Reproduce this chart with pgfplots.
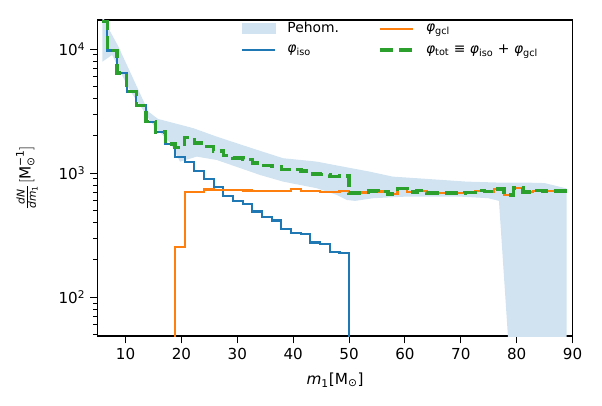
\documentclass[border=0pt]{standalone}
\usepackage{amsmath}
\usepackage{fontspec}
\setmainfont{DejaVu Sans}
\usepackage{pgfplots}
\pgfplotsset{compat=1.18}
\definecolor{tabblue}{RGB}{31,119,180}
\definecolor{taborange}{RGB}{255,127,14}
\definecolor{tabgreen}{RGB}{44,160,44}
\definecolor{bandcol}{RGB}{209,227,240}
\newcommand{\vphi}{{\itshape φ}}
\begin{document}
\begin{tikzpicture}
\begin{axis}[
  at={(0,0)}, anchor=south west,
  scale only axis, width=341.9pt, height=227.5pt,
  xmin=5, xmax=90,
  ymode=log, ymin=48.7, ymax=17200,
  axis line style={line width=0.8pt},
  tick align=outside, tick pos=left,
  major tick length=5.4pt, minor tick length=3.1pt,
  every major tick/.style={black, line width=0.8pt},
  every minor tick/.style={black, line width=0.6pt},
  xtick={10,20,30,40,50,60,70,80,90},
  xticklabels={10,20,30,40,50,60,70,80,90},
  ytick={100,1000,10000},
  yticklabels={10\textsuperscript{2},10\textsuperscript{3},10\textsuperscript{4}},
  minor ytick={50,60,70,80,90,200,300,400,500,600,700,800,900,2000,3000,4000,5000,6000,7000,8000,9000},
  tick label style={font=\fontsize{10.9}{13}\selectfont},
  xlabel={\textit{m}\textsubscript{1}[M\textsubscript{⊙}]},
  xlabel style={font=\fontsize{11}{13}\selectfont, at={(axis description cs:0.5,-0.139)}, anchor=center},
  ylabel={$\frac{\textit{dN}}{\textit{dm}_{\text{1}}}[\text{M}_{\text{⊙}}^{\text{−1}}]$},
  ylabel style={font=\fontsize{11}{13}\selectfont, at={(axis description cs:-0.149,0.5)}, anchor=center},
  legend columns=2,
  legend cell align=left,
  legend style={draw=none, fill=none, at={(axis description cs:0.292,1.011)}, anchor=north west,
    font=\fontsize{10}{12}\selectfont, row sep=3pt,
    /tikz/every odd column/.append style={column sep=6pt},
    /tikz/every even column/.append style={column sep=26pt}},
]
\addplot[fill=bandcol, draw=none, forget plot] coordinates {
(5.865,18500) (6.92,14800) (8.71,10500) (10.5,7030) (12.29,4700) (14.08,3140) (15.8,2740)
(22.1,2310) (26.3,1973) (29.9,1745) (34.1,1514) (38.2,1321) (44.2,1241) (48.9,1131)
(53.7,1030) (57.8,939) (63.9,900) (71.0,856) (77.0,840) (81.8,840) (85.0,833) (88.94,754)
(88.94,40) (78.56,40) (76.83,598) (74.9,629) (69.84,648) (60.3,648) (54.33,629) (51.05,598)
(49.57,609) (47.78,669) (44.2,757) (38.18,856) (34.06,968) (26.31,1279) (22.74,1361)
(19.75,1240) (17.98,1760) (16.25,2115) (14.52,2590) (12.79,3420) (11.06,4440) (9.33,6200)
(7.6,9000) (5.865,7940)
} -- cycle;
\addplot[const plot, tabblue, line width=1.6pt, forget plot] coordinates {
(5.865,16700) (6.731,9743) (8.462,6405) (10.192,4550) (11.923,3510) (13.654,2606)
(15.385,2141) (17.115,1720) (18.846,1361) (20.577,1240) (22.308,1049) (24.038,899)
(25.769,771) (27.500,656) (29.231,601) (30.962,568) (32.692,492) (34.423,442)
(36.154,415) (37.885,353) (39.615,330) (41.346,322) (43.077,276) (44.808,269)
(46.538,233) (48.269,226) (50.000,1)
};
\addplot[const plot, taborange, line width=1.6pt, forget plot] coordinates {
(17.115,1) (18.846,256) (20.577,703) (22.308,703) (24.038,740) (25.769,735) (27.500,735)
(29.231,730) (30.962,725) (32.692,718) (34.423,715) (36.154,718) (37.885,722) (39.615,743)
(41.346,720) (43.077,715) (44.808,705) (46.538,710) (48.269,720) (50.000,690) (51.731,698)
(53.462,720) (55.192,713) (56.923,681) (58.654,751) (60.385,707) (62.115,724) (63.846,690)
(65.577,690) (67.308,690) (69.038,695) (70.769,698) (72.500,724) (74.231,713) (75.962,747)
(77.692,669) (79.423,757) (81.154,703) (82.885,724) (84.615,720) (86.346,720) (88.077,720)
(88.942,720)
};
\addplot[const plot, tabgreen, line width=2.6pt, dash pattern=on 9.5pt off 4.2pt, forget plot] coordinates {
(5.865,16700) (6.731,9743) (8.462,6405) (10.192,4550) (11.923,3510) (13.654,2606)
(15.385,2141) (17.115,1720) (18.846,1617) (20.577,1943) (22.308,1752) (24.038,1639)
(25.769,1506) (27.500,1391) (29.231,1331) (30.962,1293) (32.692,1210) (34.423,1157)
(36.154,1133) (37.885,1075) (39.615,1073) (41.346,1042) (43.077,991) (44.808,974)
(46.538,943) (48.269,946) (50.000,690) (51.731,698)
(53.462,720) (55.192,713) (56.923,681) (58.654,751) (60.385,707) (62.115,724) (63.846,690)
(65.577,690) (67.308,690) (69.038,695) (70.769,698) (72.500,724) (74.231,713) (75.962,747)
(77.692,669) (79.423,757) (81.154,703) (82.885,724) (84.615,720) (86.346,720) (88.077,720)
(88.942,720)
};
\addlegendimage{legend image code/.code={\fill[bandcol] (0pt,-3.6pt) rectangle (24pt,3.6pt);}}
\addlegendentry{Pehom.}
\addlegendimage{legend image code/.code={\draw[taborange,line width=1.6pt] (0pt,0pt) -- (24pt,0pt);}}
\addlegendentry{\vphi\textsubscript{gcl}}
\addlegendimage{legend image code/.code={\draw[tabblue,line width=1.6pt] (0pt,0pt) -- (24pt,0pt);}}
\addlegendentry{\vphi\textsubscript{iso}}
\addlegendimage{legend image code/.code={\draw[tabgreen,line width=2.6pt,dash pattern=on 9.5pt off 4.2pt] (0pt,0pt) -- (24pt,0pt);}}
\addlegendentry{\vphi\textsubscript{tot} ≡ \vphi\textsubscript{iso} + \vphi\textsubscript{gcl}}
\end{axis}
\pgfresetboundingbox
\path[use as bounding box] (-70.3pt,-49.7pt) rectangle (363.1pt,241.9pt);
\end{tikzpicture}
\end{document}
